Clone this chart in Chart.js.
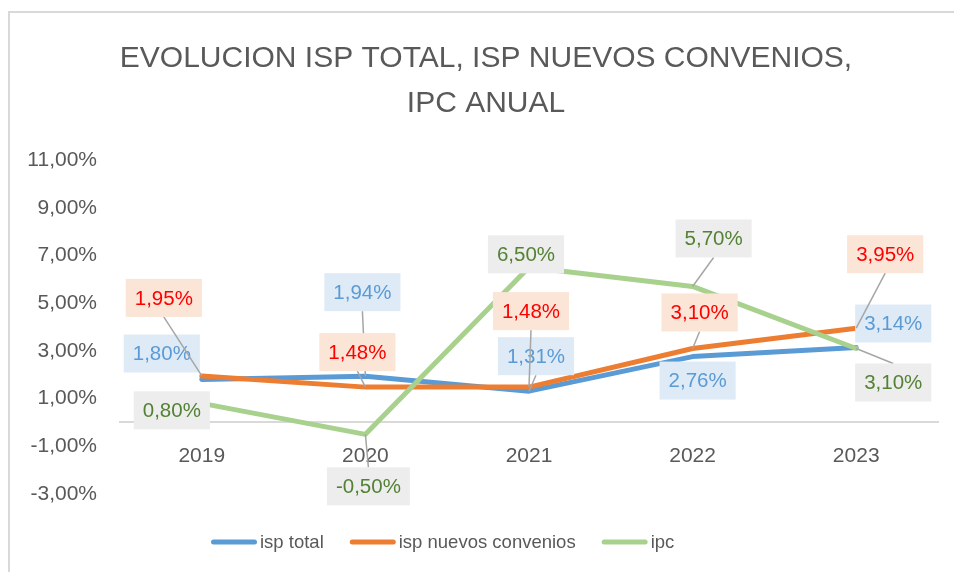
<!DOCTYPE html>
<html>
<head>
<meta charset="utf-8">
<script src="https://cdn.jsdelivr.net/npm/chart.js@4.4.1/dist/chart.umd.min.js"></script>
<style>
    html, body { margin: 0; padding: 0; background: #fff; overflow: hidden; }
    #wrap { width: 954px; height: 572px; position: relative; }
</style>
</head>
<body>
<div id="wrap"><canvas id="ispChart"></canvas></div>
<script>
// data
const years = ['2019', '2020', '2021', '2022', '2023'];
const ispTotal = [1.80, 1.94, 1.31, 2.76, 3.14];
const ispNuevos = [1.95, 1.48, 1.48, 3.10, 3.95];
const ipc = [0.80, -0.50, 6.50, 5.70, 3.10];
const seriesNames = ['isp total', 'isp nuevos convenios', 'ipc'];
const titleLines = ['EVOLUCION ISP TOTAL, ISP NUEVOS CONVENIOS,', 'IPC ANUAL'];

// where each data label sits, relative to its point (px)
const offTotal = [[-40, -26], [-3, -84], [7, -35], [5, 24], [37, -24]];
const offNuevos = [[-38, -78], [-8, -35], [2, -76], [7, -36], [29, -74]];
const offIpc = [[-30, 7], [3, 52], [-3, -13], [21, -48], [37, 34]];

const FONT = "'Liberation Sans', Arial, sans-serif";
const GREY_TEXT = '#595959';

function pct(v) {
    return v.toFixed(2).replace('.', ',') + '%';
}

// chart frame (only top and left edges are in the picture) and title
const framePlugin = {
    id: 'frame',
    beforeDraw(chart) {
        const ctx = chart.ctx;
        ctx.save();
        ctx.strokeStyle = '#D9D9D9';
        ctx.lineWidth = 2;
        ctx.beginPath();
        ctx.moveTo(9, chart.height + 5);
        ctx.lineTo(9, 12);
        ctx.lineTo(chart.width + 5, 12);
        ctx.stroke();
        ctx.fillStyle = GREY_TEXT;
        ctx.font = '30px ' + FONT;
        ctx.textAlign = 'center';
        ctx.textBaseline = 'alphabetic';
        titleLines.forEach((t, i) => ctx.fillText(t, 486, 67 + i * 45));
        ctx.restore();
    }
};

// data labels with boxes and leader lines
const calloutPlugin = {
    id: 'callouts',
    afterDatasetsDraw(chart) {
        const ctx = chart.ctx;
        ctx.save();
        ctx.font = '20.5px ' + FONT;
        ctx.textAlign = 'center';
        ctx.textBaseline = 'middle';
        chart.data.datasets.forEach((ds, i) => {
            const meta = chart.getDatasetMeta(i);
            meta.data.forEach((pt, j) => {
                const txt = pct(ds.data[j]);
                const off = ds.labelOffsets[j];
                const cx = pt.x + off[0];
                const cy = pt.y + off[1];
                const w = ctx.measureText(txt).width + 18;
                const h = 38;
                const l = cx - w / 2, r = cx + w / 2, t = cy - h / 2, b = cy + h / 2;
                const m = 8;
                const inside = pt.x > l - m && pt.x < r + m && pt.y > t - m && pt.y < b + m;
                if (!inside) {
                    let sx = cx, sy = cy;
                    if (pt.y > b) sy = b;
                    else if (pt.y < t) sy = t;
                    else sx = pt.x < l ? l : r;
                    ctx.strokeStyle = '#A6A6A6';
                    ctx.lineWidth = 1.5;
                    ctx.beginPath();
                    ctx.moveTo(sx, sy);
                    ctx.lineTo(pt.x, pt.y);
                    ctx.stroke();
                }
                ctx.fillStyle = ds.labelFill;
                ctx.fillRect(l, t, w, h);
                ctx.fillStyle = ds.labelColor;
                ctx.fillText(txt, cx, cy + 1);
            });
        });
        ctx.restore();
    }
};

// bottom legend with line samples
const legendPlugin = {
    id: 'lineLegend',
    afterDraw(chart) {
        const ctx = chart.ctx;
        ctx.save();
        ctx.font = '18.5px ' + FONT;
        ctx.textBaseline = 'middle';
        ctx.textAlign = 'left';
        let x = 211;
        const y = 542;
        chart.data.datasets.forEach(ds => {
            ctx.strokeStyle = ds.borderColor;
            ctx.lineWidth = 5;
            ctx.lineCap = 'round';
            ctx.beginPath();
            ctx.moveTo(x + 2.5, y);
            ctx.lineTo(x + 43.5, y);
            ctx.stroke();
            ctx.fillStyle = GREY_TEXT;
            ctx.fillText(ds.label, x + 49, y + 1);
            x += 49 + ctx.measureText(ds.label).width + 26;
        });
        ctx.restore();
    }
};

const lineStyle = {
    borderWidth: 5,
    pointRadius: 0,
    pointHoverRadius: 0,
    tension: 0,
    borderJoinStyle: 'round',
    borderCapStyle: 'round',
    fill: false
};

Chart.defaults.font.family = FONT;

const ispChart = new Chart(document.getElementById('ispChart'), {
    type: 'line',
    data: {
        labels: years,
        datasets: [{
            label: seriesNames[0],
            data: ispTotal,
            borderColor: '#5B9BD5',
            labelFill: '#DEEBF7',
            labelColor: '#5B9BD5',
            labelOffsets: offTotal,
            order: 3,
            ...lineStyle
        }, {
            label: seriesNames[1],
            data: ispNuevos,
            borderColor: '#ED7D31',
            labelFill: '#FBE5D6',
            labelColor: '#FF0000',
            labelOffsets: offNuevos,
            order: 2,
            ...lineStyle
        }, {
            label: seriesNames[2],
            data: ipc,
            borderColor: '#A9D18E',
            labelFill: '#EDEDED',
            labelColor: '#548235',
            labelOffsets: offIpc,
            order: 1,
            ...lineStyle
        }]
    },
    options: {
        responsive: true,
        maintainAspectRatio: false,
        animation: false,
        layout: {
            padding: { left: 0, right: 16, top: 160, bottom: 78 }
        },
        plugins: {
            legend: { display: false },
            tooltip: { enabled: false },
            title: { display: false }
        },
        scales: {
            x: {
                position: { y: 0 },
                offset: true,
                grid: { display: false, drawTicks: false, offset: true },
                border: { display: true, color: '#D9D9D9', width: 2 },
                ticks: {
                    color: GREY_TEXT,
                    font: { size: 21 },
                    padding: 21,
                    maxRotation: 0
                }
            },
            y: {
                min: -3,
                max: 11,
                grid: { display: false, drawTicks: false },
                border: { display: false },
                ticks: {
                    stepSize: 2,
                    color: GREY_TEXT,
                    font: { size: 21 },
                    padding: 23,
                    callback: v => pct(v)
                },
                afterFit(scale) {
                    scale.width = 120;
                }
            }
        }
    },
    plugins: [framePlugin, calloutPlugin, legendPlugin]
});
</script>
</body>
</html>
